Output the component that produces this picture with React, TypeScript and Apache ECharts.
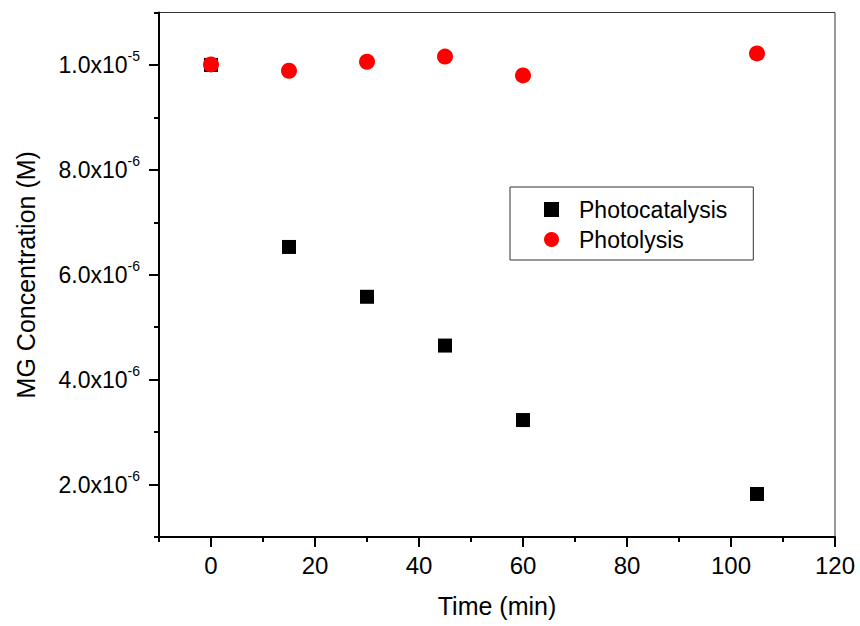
import React, { useEffect, useRef } from "react";
import * as echarts from "echarts";

const timeMin = [0, 15, 30, 45, 60, 105];
const photocatalysis = [1.0e-5, 6.53e-6, 5.58e-6, 4.65e-6, 3.23e-6, 1.82e-6];
const photolysis = [1.001e-5, 9.89e-6, 1.006e-5, 1.016e-5, 9.8e-6, 1.022e-5];

const xMajorTicks = [0, 20, 40, 60, 80, 100, 120];
const xMinorTicks = [-10, 10, 30, 50, 70, 90, 110];
const yMajorTicks = [2e-6, 4e-6, 6e-6, 8e-6, 1e-5];
const yMinorTicks = [1e-6, 3e-6, 5e-6, 7e-6, 9e-6, 1.1e-5];

const FONT = "Liberation Sans";

function sciLabel(v: number): string {
  if (!v) return "0";
  const exp = Math.floor(Math.log10(v) + 1e-9);
  const mant = v / Math.pow(10, exp);
  return `{a|${mant.toFixed(1)}x10}{b|${exp}}`;
}

export default function App() {
  const ref = useRef<HTMLDivElement>(null);
  useEffect(() => {
    if (!ref.current) return;
    const chart = echarts.init(ref.current, undefined, { renderer: "svg" });
    const axisColor = "#000";
    chart.setOption({
      animation: false,
      backgroundColor: "#fff",
      textStyle: { fontFamily: FONT },
      grid: {
        left: 159,
        right: 25,
        top: 12.5,
        bottom: 89,
        show: true,
        borderColor: "#333",
        borderWidth: 1,
        backgroundColor: "transparent",
      },
      legend: {
        orient: "vertical",
        left: 510,
        top: 187,
        padding: [11, 26, 9, 34],
        itemWidth: 15,
        itemHeight: 15,
        itemGap: 7,
        borderColor: "#333",
        borderWidth: 1,
        textStyle: {
          fontFamily: FONT,
          fontSize: 23,
          color: "#000",
          padding: [0, 0, 0, 15],
        },
        data: ["Photocatalysis", "Photolysis"],
      },
      xAxis: [
        {
          type: "value",
          min: -10,
          max: 120,
          position: "bottom",
          name: "Time (min)",
          nameLocation: "middle",
          nameGap: 56,
          nameTextStyle: { fontFamily: FONT, fontSize: 25, color: "#000" },
          axisLine: { show: true, onZero: false, lineStyle: { color: axisColor, width: 2 } },
          axisTick: {
            show: true,
            customValues: xMajorTicks,
            length: 10,
            lineStyle: { color: axisColor, width: 2 },
          },
          axisLabel: {
            customValues: xMajorTicks,
            fontFamily: FONT,
            fontSize: 24,
            color: "#000",
            margin: 16,
          },
          splitLine: { show: false },
        },
        {
          type: "value",
          min: -10,
          max: 120,
          position: "bottom",
          axisLine: { show: false, onZero: false },
          axisTick: {
            show: true,
            customValues: xMinorTicks,
            length: 5,
            lineStyle: { color: axisColor, width: 2 },
          },
          axisLabel: { show: false },
          splitLine: { show: false },
        },
      ],
      yAxis: [
        {
          type: "value",
          min: 1e-6,
          max: 1.1e-5,
          position: "left",
          name: "MG Concentration (M)",
          nameLocation: "middle",
          nameGap: 121,
          nameTextStyle: { fontFamily: FONT, fontSize: 25, color: "#000" },
          axisLine: { show: true, onZero: false, lineStyle: { color: axisColor, width: 2 } },
          axisTick: {
            show: true,
            customValues: yMajorTicks,
            length: 10,
            lineStyle: { color: axisColor, width: 2 },
          },
          axisLabel: {
            customValues: yMajorTicks,
            margin: 19,
            formatter: (v: number) => sciLabel(v),
            rich: {
              a: { fontFamily: FONT, fontSize: 23, lineHeight: 23, color: "#000" },
              b: {
                fontFamily: FONT,
                fontSize: 14,
                lineHeight: 14,
                color: "#000",
                padding: [0, 0, 18, 0],
              },
            },
          },
          splitLine: { show: false },
        },
        {
          type: "value",
          min: 1e-6,
          max: 1.1e-5,
          position: "left",
          axisLine: { show: false, onZero: false },
          axisTick: {
            show: true,
            customValues: yMinorTicks,
            length: 5,
            lineStyle: { color: axisColor, width: 2 },
          },
          axisLabel: { show: false },
          splitLine: { show: false },
        },
      ],
      series: [
        {
          name: "Photocatalysis",
          type: "scatter",
          xAxisIndex: 0,
          yAxisIndex: 0,
          symbol: "rect",
          symbolSize: 14,
          itemStyle: { color: "#000", opacity: 1 },
          data: timeMin.map((t, i) => [t, photocatalysis[i]]),
          z: 2,
        },
        {
          name: "Photolysis",
          type: "scatter",
          xAxisIndex: 0,
          yAxisIndex: 0,
          symbol: "circle",
          symbolSize: 16,
          itemStyle: { color: "#ff0000", opacity: 1 },
          data: timeMin.map((t, i) => [t, photolysis[i]]),
          z: 3,
        },
      ],
    });
    return () => chart.dispose();
  }, []);
  return (
    <div
      ref={ref}
      style={{ position: "fixed", left: 0, top: 0, width: 860, height: 626, background: "#fff" }}
    />
  );
}
